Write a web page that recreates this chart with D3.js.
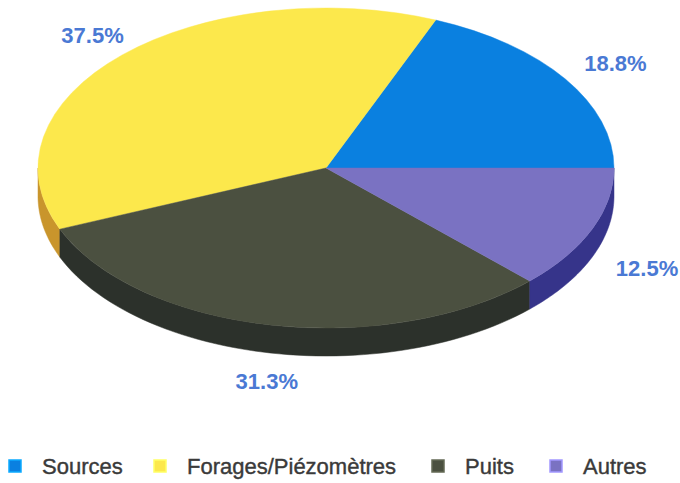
<!DOCTYPE html>
<html><head><meta charset="utf-8">
<script src="https://cdn.jsdelivr.net/npm/d3@7"></script>
<style>body{margin:0;background:#fff}svg{display:block}</style>
</head><body>
<svg id="c" width="680" height="483"></svg>
<script>
const categories = ["Sources", "Forages/Piézomètres", "Puits", "Autres"];
const values = [18.8, 37.5, 31.3, 12.5];
const labels = ["18.8%", "37.5%", "31.3%", "12.5%"];
const topColors = ["#0a80e0", "#fce84c", "#4b5040", "#7a72c2"];
const sideColors = ["#0a5fae", "#c9952c", "#2c312b", "#36348a"];

const W = 680, H = 483;
const cx = 326, cy = 168, rx = 288, ry = 160, depth = 28;
const svg = d3.select("#c");

// pie counter-clockwise starting at 3 o'clock (d3 angle = pi/2)
const pie = d3.pie().value(d => d).sort(null)
  .startAngle(Math.PI / 2).endAngle(Math.PI / 2 - 2 * Math.PI);
const arcs = pie(values);

const px = a => cx + rx * Math.sin(a);
const py = (a, dz) => cy - ry * Math.cos(a) + dz;

// side walls (front half only: d3 angle in (-3pi/2, -pi/2))
const sideG = svg.append("g");
const line = d3.line();
arcs.forEach((d, i) => {
  const a0 = Math.min(d.startAngle, -Math.PI / 2);
  const a1 = Math.max(d.endAngle, -3 * Math.PI / 2);
  if (a0 <= a1) return;
  const n = 60, pts = [];
  for (let k = 0; k <= n; k++) { const a = a0 + (a1 - a0) * k / n; pts.push([px(a), py(a, 0)]); }
  for (let k = n; k >= 0; k--) { const a = a0 + (a1 - a0) * k / n; pts.push([px(a), py(a, depth)]); }
  sideG.append("path").attr("d", line(pts) + "Z")
    .attr("fill", sideColors[i]).attr("stroke", sideColors[i]).attr("stroke-width", 0.5);
});

// top faces
const arc = d3.arc().innerRadius(0).outerRadius(rx);
svg.append("g").attr("transform", `translate(${cx},${cy}) scale(1,${ry / rx})`)
  .selectAll("path").data(arcs).join("path")
  .attr("d", arc).attr("fill", (d, i) => topColors[i])
  .attr("stroke", (d, i) => topColors[i]).attr("stroke-width", 0.6);

// labels
svg.append("g").selectAll("text").data(arcs).join("text")
  .attr("x", d => { const m = (d.startAngle + d.endAngle) / 2; return cx + 7 + 1.18 * rx * Math.sin(m); })
  .attr("y", d => { const m = (d.startAngle + d.endAngle) / 2; const c = -Math.cos(m);
      return cy + 1.18 * ry * c + (c > 0 ? depth : 0); })
  .attr("text-anchor", "middle").attr("dy", "0.36em")
  .attr("font-family", "Liberation Sans, Arial, sans-serif").attr("font-weight", "bold")
  .attr("font-size", 22).attr("fill", "#4a79d4")
  .text((d, i) => labels[i]);

// legend
const legX = [9, 154, 432, 550];
const leg = svg.append("g");
categories.forEach((c, i) => {
  leg.append("rect").attr("x", legX[i]).attr("y", 460).attr("width", 12).attr("height", 12)
    .attr("fill", topColors[i]).attr("stroke", d3.color(topColors[i]).brighter(0.8)).attr("stroke-width", 1.5);
  leg.append("text").attr("x", legX[i] + 33).attr("y", 474)
    .attr("font-family", "Liberation Sans, Arial, sans-serif").attr("font-size", 22)
    .attr("stroke", "#3a3a3a").attr("stroke-width", 0.4)
    .attr("fill", "#3a3a3a").text(c);
});
</script>
</body></html>
